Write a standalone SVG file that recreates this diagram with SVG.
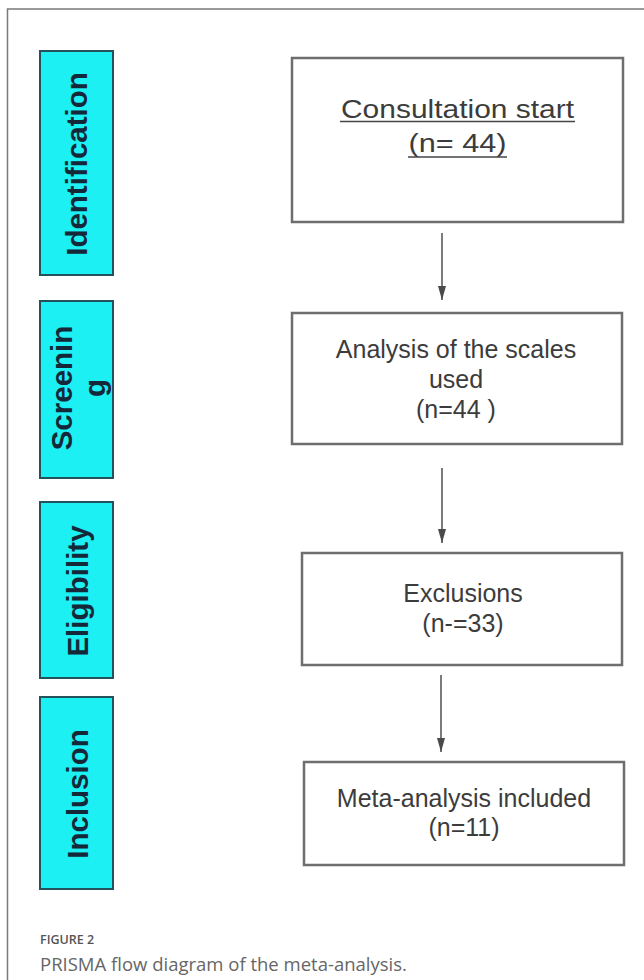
<svg xmlns="http://www.w3.org/2000/svg" width="644" height="980" viewBox="0 0 644 980">
  <style>
    .frame { stroke: #7a7a7a; stroke-width: 1.5; fill: none; }
    .stage { fill: #1cf0f2; stroke: #24525c; stroke-width: 2; }
    .stagetxt { font-family: "Liberation Sans", Arial, sans-serif; font-weight: bold; font-size: 29.5px; fill: #15283a; text-anchor: middle; }
    .box { fill: #ffffff; stroke: #6e6e6e; stroke-width: 2.5; }
    .boxtxt { font-family: "Liberation Sans", Arial, sans-serif; font-size: 25px; fill: #3c3c3c; text-anchor: middle; }
    .uline { stroke: #454545; stroke-width: 1.6; }
    .conn { stroke: #5a5a5a; stroke-width: 1.6; fill: none; marker-end: url(#arrow); }
    .caphead { font-family: "Open Sans", "Liberation Sans", sans-serif; font-weight: 600; font-size: 12.5px; fill: #555555; }
    .captxt { font-family: "Open Sans", "Liberation Sans", sans-serif; font-size: 18.5px; fill: #666666; }
  </style>
  <defs>
    <marker id="arrow" viewBox="0 0 14 10" refX="14" refY="5" markerWidth="14" markerHeight="10" markerUnits="userSpaceOnUse" orient="auto">
      <path d="M0,1 L14,5 L0,9 z" fill="#4a4a4a"/>
    </marker>
  </defs>
  <rect width="644" height="980" fill="#ffffff"/>
  <path class="frame" d="M7.5,980 L7.5,9 L644,9"/>

  <g id="stage-identification">
    <rect class="stage" x="40" y="51" width="73" height="224"/>
    <text class="stagetxt" transform="translate(87,164) rotate(-90)">Identification</text>
  </g>
  <g id="stage-screening">
    <rect class="stage" x="40" y="301" width="73" height="177"/>
    <text class="stagetxt" transform="translate(72,388) rotate(-90)">Screenin<tspan x="0" dy="33">g</tspan></text>
  </g>
  <g id="stage-eligibility">
    <rect class="stage" x="40" y="502" width="73" height="176"/>
    <text class="stagetxt" transform="translate(88,591) rotate(-90)">Eligibility</text>
  </g>
  <g id="stage-inclusion">
    <rect class="stage" x="40" y="697" width="73" height="192"/>
    <text class="stagetxt" transform="translate(88,794) rotate(-90)">Inclusion</text>
  </g>

  <g id="node-consultation">
    <rect class="box" x="292" y="58" width="331" height="164"/>
    <text class="boxtxt" x="457.5" y="118" font-size="26" textLength="233" lengthAdjust="spacingAndGlyphs">Consultation start</text>
    <line class="uline" x1="340" y1="121.5" x2="575" y2="121.5"/>
    <text class="boxtxt" x="457.5" y="152" font-size="26" textLength="98" lengthAdjust="spacingAndGlyphs">(n= 44)</text>
    <line class="uline" x1="408" y1="157" x2="507" y2="157"/>
  </g>

  <g id="node-analysis">
    <rect class="box" x="292" y="313" width="330" height="131"/>
    <text class="boxtxt" x="456" y="358">Analysis of the scales</text>
    <text class="boxtxt" x="456" y="388">used</text>
    <text class="boxtxt" x="456" y="418">(n=44 )</text>
  </g>

  <g id="node-exclusions">
    <rect class="box" x="302" y="553" width="320" height="112"/>
    <text class="boxtxt" x="463" y="602">Exclusions</text>
    <text class="boxtxt" x="463" y="632">(n-=33)</text>
  </g>

  <g id="node-included">
    <rect class="box" x="304" y="762" width="320" height="103"/>
    <text class="boxtxt" x="464" y="807">Meta-analysis included</text>
    <text class="boxtxt" x="464" y="836">(n=11)</text>
  </g>

  <g id="connectors">
    <line class="conn" x1="442" y1="233" x2="442" y2="300"/>
    <line class="conn" x1="442" y1="468" x2="442" y2="543"/>
    <line class="conn" x1="441" y1="675" x2="441" y2="752"/>
  </g>

  <g id="caption">
    <text class="caphead" x="40" y="944">FIGURE 2</text>
    <text class="captxt" x="40" y="971">PRISMA flow diagram of the meta-analysis.</text>
  </g>
</svg>
